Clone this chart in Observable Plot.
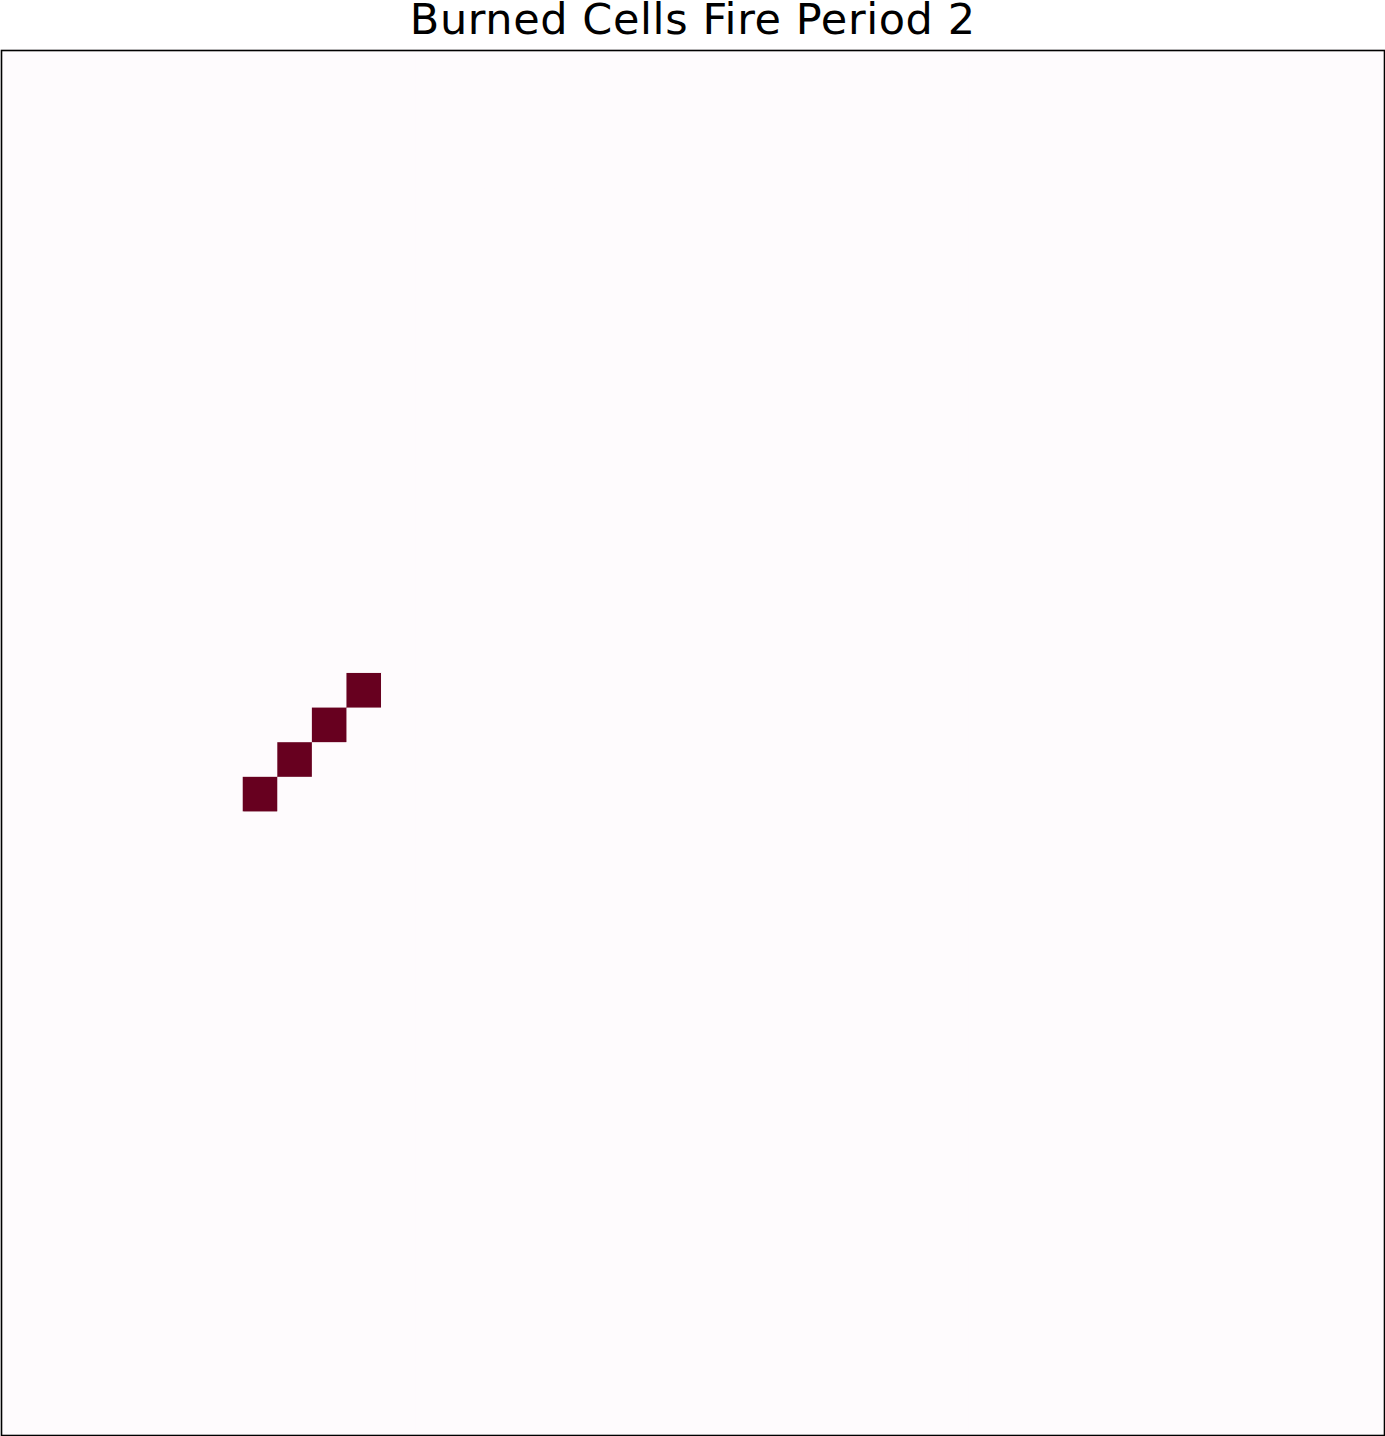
<!DOCTYPE html>
<html>
<head>
<meta charset="utf-8">
<script src="https://cdn.jsdelivr.net/npm/d3@7"></script>
<script src="https://cdn.jsdelivr.net/npm/@observablehq/plot@0.6"></script>
<style>
  html, body { margin: 0; padding: 0; background: #ffffff; }
  #title { width: 1385px; height: 49px; box-sizing: border-box; padding-left: 0.6px; font-family: "DejaVu Sans", sans-serif; font-size: 43px; line-height: 38px; letter-spacing: 0.6px; text-align: center; color: #000; white-space: nowrap; overflow: visible; }
  #chart svg { display: block; }
</style>
</head>
<body>
<div id="title"></div>
<div id="chart"></div>
<script>
const titleText = "Burned Cells Fire Period 2";
const gridCols = 40;
const gridRows = 40;
const burnedCols = [7, 8, 9, 10];
const burnedRows = [21, 20, 19, 18];
const stateDomain = [0, 1];
const stateColors = ["#fefbfd", "#67001f"];

document.getElementById("title").textContent = titleText;

const burnedSet = new Set(burnedCols.map((c, i) => c + "," + burnedRows[i]));
const cells = [];
for (let r = 0; r < gridRows; r++) {
  for (let c = 0; c < gridCols; c++) {
    cells.push({col: c, row: r, burned: burnedSet.has(c + "," + r) ? 1 : 0});
  }
}

const chart = Plot.plot({
  width: 1385,
  height: 1387,
  marginTop: 1,
  marginBottom: 1,
  marginLeft: 1,
  marginRight: 1,
  style: {background: "transparent"},
  x: {type: "band", domain: d3.range(gridCols), padding: 0, round: false, axis: null},
  y: {type: "band", domain: d3.range(gridRows), padding: 0, round: false, axis: null},
  color: {type: "ordinal", domain: stateDomain, range: stateColors},
  marks: [
    Plot.cell(cells, {x: "col", y: "row", fill: "burned", inset: -0.3}),
    Plot.frame({stroke: "#000", strokeWidth: 1.6})
  ]
});
document.getElementById("chart").appendChild(chart);
</script>
</body>
</html>
